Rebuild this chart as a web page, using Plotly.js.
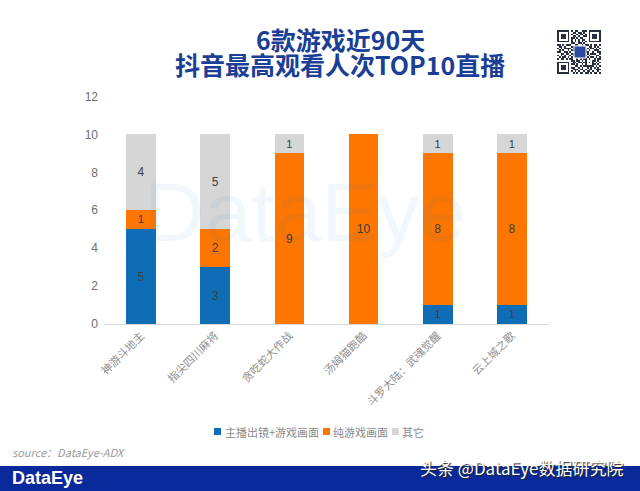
<!DOCTYPE html>
<html><head><meta charset="utf-8">
<script src="https://cdn.plot.ly/plotly-3.0.1.min.js"></script>
<style>html,body{margin:0;padding:0;background:#fff}#c{width:640px;height:491px}</style>
</head><body><div id="c"></div>
<script>
const categories = ['神游斗地主','指尖四川麻将','贪吃蛇大作战','汤姆猫跑酷','斗罗大陆：武魂觉醒','云上城之歌'];
const anchorFace = [5,3,0,0,1,1];
const gameOnly = [1,2,9,10,8,8];
const others = [4,5,1,0,1,1];
const seriesNames = ['主播出镜+游戏画面','纯游戏画面','其它'];
const seriesColors = ['#0f6db5','#fc7600','#d6d6d6'];
const tickValues = [0,2,4,6,8,10,12];
const qrRows = [
'1111111010110011101111111',
'1000001001101101001000001',
'1011101010010110101011101',
'1011101001101001101011101',
'1011101011010110001011101',
'1000001010101011001000001',
'1111111010101010101111111',
'0000000011001101000000000',
'1101011100110010110101101',
'0110100011011011001101010',
'1010111101000001010110101',
'0101001011000001101001110',
'1100110100000000110010011',
'0011011011000001010111001',
'1010100101000001101000110',
'0101101010111110010110101',
'1011010110010101101001011',
'0000000011011010100011010',
'1111111001101101101010101',
'1000001011010010100011010',
'1011101000110101111110101',
'1011101011001010010101010',
'1011101001110110101100111',
'1000001010101001011010010',
'1111111001010110110101101'
];
const F = '"Noto Sans CJK SC","Noto Sans",sans-serif';
const L = 'Liberation Sans, Arial, sans-serif';
const S = [anchorFace, gameOnly, others];
const traces = S.map((v,i)=>({
  type:'bar', name:seriesNames[i], x:categories, y:v,
  marker:{color:seriesColors[i], line:{width:0}},
  text:v.map(n=>n===0?'':String(n)), textposition:'inside', insidetextanchor:'middle',
  textangle:0, textfont:{family:L,size:12,color:'#404040'}, width:0.4, hoverinfo:'skip', showlegend:false
}));
traces.push({type:'heatmap', xaxis:'x2', yaxis:'y2', z:qrRows.map(r=>r.split('').map(Number)),
  colorscale:[[0,'#ffffff'],[1,'#2a3040']], showscale:false, hoverinfo:'skip', showlegend:false});
const W=640,H=491;
const px=(x)=>x/W, py=(y)=>1-y/H;
const ann=(t,x,y,font,extra)=>Object.assign({text:t,xref:'paper',yref:'paper',x:px(x),y:py(y),showarrow:false,
  xanchor:'center',yanchor:'middle',font:Object.assign({family:F},font)},extra||{});
const legendSwatchX=[214,323,392], legendTextX=[224,332,401];
const titleFont={size:25,color:'#1b3f96',weight:700};
const layout={
  width:W,height:H,margin:{l:0,r:0,t:0,b:0},paper_bgcolor:'#fff',plot_bgcolor:'rgba(0,0,0,0)',
  barmode:'stack',showlegend:false,
  xaxis:{domain:[px(104),px(549)],type:'category',categoryorder:'array',categoryarray:categories,tickangle:-45,
    showgrid:false,zeroline:false,showline:true,linecolor:'#d9d9d9',linewidth:1,ticks:'',
    tickfont:{family:F,size:11,color:'#8f8f8f'},automargin:false},
  yaxis:{domain:[py(324),py(96.5)],range:[0,12],tickvals:tickValues,showgrid:false,zeroline:false,showline:false,ticks:'',
    tickfont:{family:L,size:12,color:'#6e6e6e'},ticklabelstandoff:5,automargin:false},
  xaxis2:{domain:[px(557),px(601)],anchor:'y2',visible:false,fixedrange:true},
  yaxis2:{domain:[py(74),py(30)],anchor:'x2',visible:false,autorange:'reversed',fixedrange:true},
  shapes:[
    {type:'rect',xref:'paper',yref:'paper',x0:0,x1:1,y0:0,y1:py(466),fillcolor:'#0a2a9b',line:{width:0},layer:'below'},
    {type:'rect',xref:'paper',yref:'paper',x0:px(574),x1:px(586),y0:py(58),y1:py(46),fillcolor:'#2c4ba0',line:{color:'#ffffff',width:1},layer:'above'}
  ].concat(seriesColors.map((c,i)=>({type:'rect',xref:'paper',yref:'paper',x0:px(legendSwatchX[i]),x1:px(legendSwatchX[i]+7),
    y0:py(435),y1:py(428),fillcolor:c,line:{width:0}}))),
  annotations:[
    ann('6款游戏近90天',340,39,titleFont),
    ann('抖音最高观看人次TOP10直播',340,64,titleFont),
    ann('DataEye',305,212,{family:L,size:84,color:'rgba(40,120,210,0.06)'}),
    ann('source：DataEye-ADX',10,452,{size:11,color:'#9a9a9a',style:'italic'},{xanchor:'left'}),
    ann('DataEye',10,478,{family:L,size:18,color:'#ffffff',weight:700},{xanchor:'left'}),
    ann('头条 @DataEye数据研究院',626,467,{size:17,color:'#ffffff',shadow:'1px 1px 1px #222'},{xanchor:'right'})
  ].concat(seriesNames.map((n,i)=>ann(n,legendTextX[i],431.5,{size:11,color:'#8a8a8a'},{xanchor:'left',borderpad:0})))
};
Plotly.newPlot('c',traces,layout,{staticPlot:true,displayModeBar:false});
</script></body></html>
